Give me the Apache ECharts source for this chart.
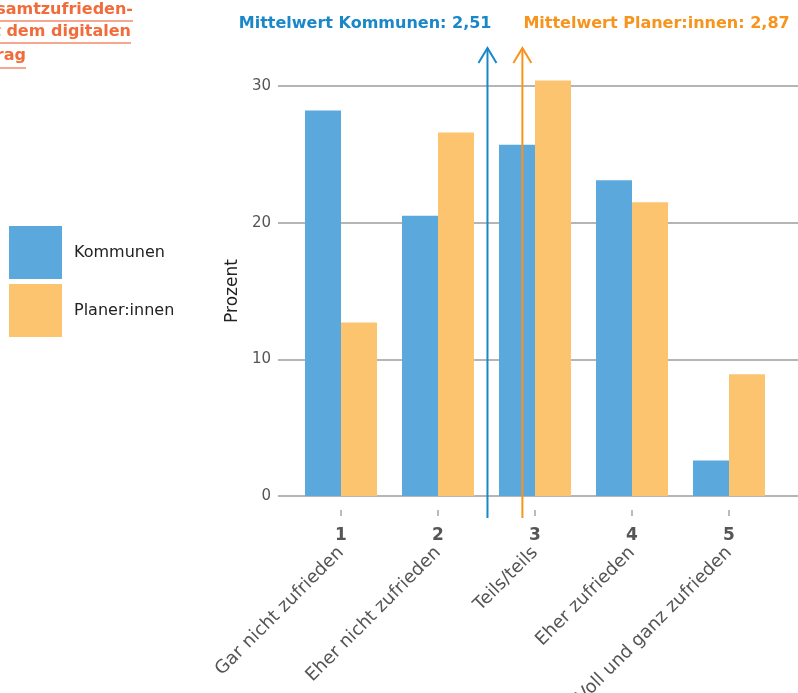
<!DOCTYPE html>
<html>
<head>
<meta charset="utf-8">
<script src="https://cdn.jsdelivr.net/npm/echarts@6/dist/echarts.min.js"></script>
<style>
  html, body { margin: 0; padding: 0; background: #fff; }
  #chart { width: 798px; height: 693px; }
</style>
</head>
<body>
<div id="chart"></div>
<script>
// Zufriedenheitsskala 1..5
const scaleValues = [1, 2, 3, 4, 5]
const categories = ['Gar nicht zufrieden', 'Eher nicht zufrieden', 'Teils/teils', 'Eher zufrieden', 'Voll und ganz zufrieden']
// Anteile in Prozent
const kommunen = [28.2, 20.5, 25.7, 23.1, 2.6]
const planer = [12.7, 26.6, 30.4, 21.5, 8.9]
// Mittelwerte
const meanKommunen = 2.51
const meanPlaner = 2.87
const yTicks = [0, 10, 20, 30]
const titleLines = ['Gesamtzufrieden-', 'mit dem digitalen', 'Antrag']

const blue = '#5ba8dc'
const orange = '#fdc46f'
const blueLine = '#1a87c9'
const orangeLine = '#f7941d'
const font = 'DejaVu Sans'

const chart = echarts.init(document.getElementById('chart'))

const xRange = { min: 0.3505, max: 5.7113 }

chart.setOption({
  animation: false,
  textStyle: { fontFamily: font },
  legend: {
    orient: 'vertical',
    left: 9,
    top: 226,
    padding: 0,
    itemWidth: 53,
    itemHeight: 53,
    itemGap: 5,
    icon: 'rect',
    textStyle: { color: '#222', fontSize: 16, padding: [0, 0, 0, 7] },
    data: ['Kommunen', 'Planer:innen']
  },
  grid: { left: 278, right: 0, top: 86, bottom: 197, containLabel: false, outerBoundsMode: 'none' },
  xAxis: [
    {
      type: 'value', ...xRange, offset: 14, position: 'bottom',
      axisLine: { show: false, onZero: false },
      axisTick: { show: true, inside: false, customValues: scaleValues, length: 6, lineStyle: { color: '#bbb', width: 2 } },
      axisLabel: { customValues: scaleValues, color: '#555', fontSize: 17, fontWeight: 'bold', margin: 17 },
      splitLine: { show: false }
    },
    {
      type: 'value', ...xRange, position: 'bottom',
      axisLine: { show: false, onZero: false },
      axisTick: { show: false },
      axisLabel: {
        customValues: scaleValues, rotate: 45, color: '#555', fontSize: 18, margin: 54,
        formatter: v => categories[scaleValues.indexOf(v)] || ''
      },
      splitLine: { show: false }
    }
  ],
  yAxis: {
    type: 'value', min: 0, max: 30, interval: 10,
    name: 'Prozent', nameLocation: 'middle', nameGap: 37,
    nameTextStyle: { color: '#222', fontSize: 17 },
    axisLine: { show: false },
    axisTick: { show: false },
    axisLabel: { color: '#555', fontSize: 15, margin: 7 },
    splitLine: { lineStyle: { color: '#b5b5b5', width: 2 } }
  },
  series: [
    {
      name: 'Kommunen', type: 'bar', barWidth: 36, barGap: '0%', clip: false,
      itemStyle: { color: blue },
      data: scaleValues.map((s, i) => [s, kommunen[i]])
    },
    {
      name: 'Planer:innen', type: 'bar', barWidth: 36, barGap: '0%', clip: false,
      itemStyle: { color: orange },
      data: scaleValues.map((s, i) => [s, planer[i]])
    }
  ]
})

// Mittelwert-Pfeile und Beschriftungen
const xk = chart.convertToPixel({ xAxisIndex: 0 }, meanKommunen)
const xp = chart.convertToPixel({ xAxisIndex: 0 }, meanPlaner)
const arrow = (x, color) => [
  { type: 'polyline', z: 100, shape: { points: [[x, 518], [x, 48]] }, style: { stroke: color, lineWidth: 2, fill: null } },
  { type: 'polyline', z: 100, shape: { points: [[x - 9, 63], [x, 48], [x + 9, 63]] }, style: { stroke: color, lineWidth: 2, fill: null } }
]
const fmt = v => v.toFixed(2).replace('.', ',')

const graphics = [
  ...arrow(xk, blueLine),
  ...arrow(xp, orangeLine),
  { type: 'text', z: 100, x: xk + 4, y: 24, style: { text: 'Mittelwert Kommunen: ' + fmt(meanKommunen), fill: blueLine, font: 'bold 16px ' + font, align: 'right', verticalAlign: 'middle' } },
  { type: 'text', z: 100, x: xp + 1, y: 24, style: { text: 'Mittelwert Planer:innen: ' + fmt(meanPlaner), fill: orangeLine, font: 'bold 16px ' + font, align: 'left', verticalAlign: 'middle' } }
]

// Titel (links angeschnitten)
const titleRight = [133, 131, 26]
const titleY = [10, 32, 56]
const underlineY = [21, 43, 68]
titleLines.forEach((t, i) => {
  graphics.push({ type: 'text', x: titleRight[i], y: titleY[i], style: { text: t, fill: '#f26b3a', font: 'bold 16px ' + font, align: 'right', verticalAlign: 'middle' } })
  graphics.push({ type: 'line', shape: { x1: 0, y1: underlineY[i], x2: titleRight[i], y2: underlineY[i] }, style: { stroke: '#f4896a', lineWidth: 1.5 } })
})

chart.setOption({ graphic: graphics })
</script>
</body>
</html>
